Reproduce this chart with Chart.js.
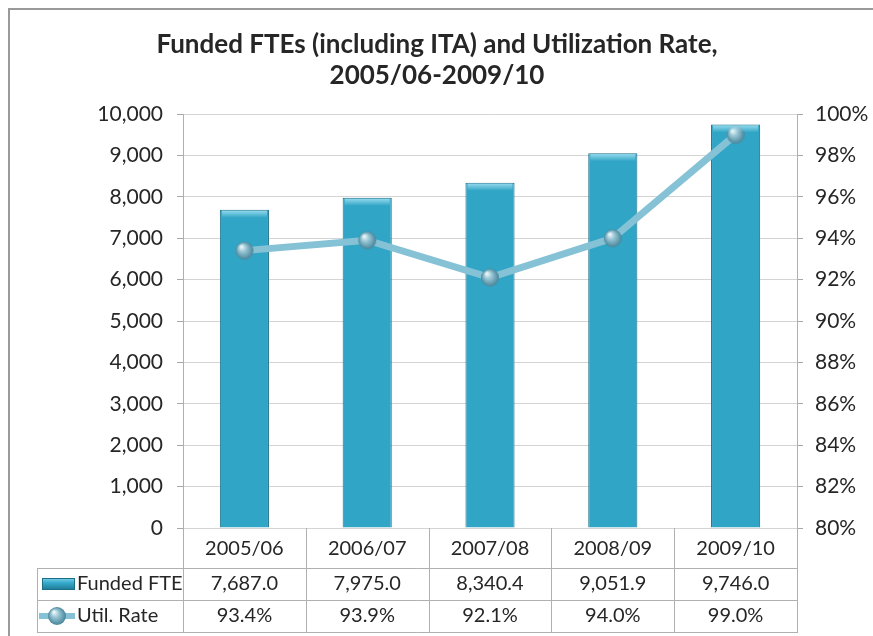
<!DOCTYPE html>
<html>
<head>
<meta charset="utf-8">
<title>Funded FTEs and Utilization Rate</title>
<script src="https://cdn.jsdelivr.net/npm/chart.js@4.4.0/dist/chart.umd.min.js"></script>
<style>
  html, body { margin: 0; padding: 0; background: #ffffff; }
  #wrap { position: relative; width: 873px; height: 636px; }
</style>
</head>
<body>
<div id="wrap"><canvas id="fteChart" width="873" height="636"></canvas></div>
<script>
  'use strict';

  // Chart data
  var categories = ['2005/06', '2006/07', '2007/08', '2008/09', '2009/10'];
  var fundedFte = [7687.0, 7975.0, 8340.4, 9051.9, 9746.0];
  var utilRate = [93.4, 93.9, 92.1, 94.0, 99.0];
  var titleLines = ['Funded FTEs (including ITA) and Utilization Rate,', '2005/06-2009/10'];
  var seriesNames = ['Funded FTE', 'Util. Rate'];

  var FONT = "'Lato', 'Open Sans', sans-serif";
  var TEXT = '#262626';
  var GRID = '#d4d4d4';
  var TABLE_LINE = '#b0b0b0';

  // Layout of the plot area (px)
  var PLOT_LEFT = 183, PLOT_RIGHT = 797, PLOT_TOP = 114, PLOT_BOTTOM = 528;
  var TABLE_LEFT = 37, ROW_H = 32;

  function fmtNum(v, digits) {
    return v.toLocaleString('en-US', { minimumFractionDigits: digits, maximumFractionDigits: digits });
  }

  // Glossy sphere used as the line marker
  function makeSphere(r) {
    var c = document.createElement('canvas');
    c.width = c.height = r * 2 + 2;
    var g = c.getContext('2d');
    var cx = r + 1, cy = r + 1;
    var grad = g.createRadialGradient(cx - r * 0.35, cy - r * 0.45, r * 0.1, cx, cy, r);
    grad.addColorStop(0, '#e8f4f8');
    grad.addColorStop(0.35, '#9cc8d6');
    grad.addColorStop(0.8, '#5f99ad');
    grad.addColorStop(1, '#4b8498');
    g.fillStyle = grad;
    g.beginPath();
    g.arc(cx, cy, r, 0, Math.PI * 2);
    g.fill();
    return c;
  }
  var sphere = makeSphere(9);

  // Bar fill with a slight horizontal bevel
  function barFill(context) {
    var chart = context.chart;
    var el = context.element;
    if (!chart.chartArea || !el || el.x === undefined) return '#31a5c6';
    var w = el.width || 50;
    var g = chart.ctx.createLinearGradient(el.x - w / 2, 0, el.x + w / 2, 0);
    g.addColorStop(0, '#1f7e9b');
    g.addColorStop(0.08, '#2c9cbc');
    g.addColorStop(0.5, '#35aacb');
    g.addColorStop(0.92, '#2c9cbc');
    g.addColorStop(1, '#1f7e9b');
    return g;
  }

  var framePlugin = {
    id: 'frameAndTable',
    beforeDraw: function(chart) {
      var ctx = chart.ctx;
      ctx.save();
      ctx.fillStyle = '#ffffff';
      ctx.fillRect(0, 0, chart.width, chart.height);
      // outer chart border
      ctx.strokeStyle = '#9a9a9a';
      ctx.lineWidth = 2;
      ctx.strokeRect(9, 9, chart.width + 20, chart.height + 20);
      ctx.restore();
    },
    afterDatasetsDraw: function(chart) {
      // light bevel on top of each bar
      var ctx = chart.ctx;
      var meta = chart.getDatasetMeta(1);
      ctx.save();
      meta.data.forEach(function(bar) {
        var l = bar.x - bar.width / 2, t = bar.y;
        var g = ctx.createLinearGradient(0, t, 0, t + 8);
        g.addColorStop(0, 'rgba(170,230,245,0.9)');
        g.addColorStop(1, 'rgba(170,230,245,0)');
        ctx.fillStyle = g;
        ctx.fillRect(l + 2, t + 1, bar.width - 4, 8);
      });
      ctx.restore();
    },
    afterDraw: function(chart) {
      var ctx = chart.ctx;
      var x = chart.scales.x;
      var area = chart.chartArea;
      var n = categories.length;
      var step = (area.right - area.left) / n;
      var top = area.bottom;
      var r1 = top + 40, r2 = r1 + ROW_H, r3 = r2 + ROW_H;

      ctx.save();

      // title
      ctx.fillStyle = TEXT;
      ctx.font = 'bold 26px ' + FONT;
      ctx.textAlign = 'center';
      ctx.textBaseline = 'middle';
      ctx.fillText(titleLines[0], 437, 45);
      ctx.fillText(titleLines[1], 437, 76);

      // table grid
      ctx.strokeStyle = TABLE_LINE;
      ctx.lineWidth = 1;
      ctx.beginPath();
      for (var i = 0; i <= n; i++) {
        var bx = Math.round(area.left + step * i) + 0.5;
        ctx.moveTo(bx, top);
        ctx.lineTo(bx, r3);
      }
      ctx.moveTo(TABLE_LEFT + 0.5, r1);
      ctx.lineTo(TABLE_LEFT + 0.5, r3);
      [r1, r2, r3].forEach(function(yy) {
        ctx.moveTo(TABLE_LEFT, yy + 0.5);
        ctx.lineTo(area.right + 1, yy + 0.5);
      });
      ctx.stroke();

      // table text
      ctx.font = '20px ' + FONT;
      ctx.fillStyle = TEXT;
      ctx.textAlign = 'center';
      ctx.textBaseline = 'middle';
      for (var j = 0; j < n; j++) {
        var cx = x.getPixelForValue(j);
        ctx.fillText(categories[j], cx, top + 21);
        ctx.fillText(fmtNum(fundedFte[j], 1), cx, r1 + 16);
        ctx.fillText(fmtNum(utilRate[j], 1) + '%', cx, r2 + 16);
      }

      // legend keys in the table
      var kg = ctx.createLinearGradient(0, r1 + 10, 0, r1 + 22);
      kg.addColorStop(0, '#7fd3ea');
      kg.addColorStop(0.4, '#36aacb');
      kg.addColorStop(1, '#1d7893');
      ctx.fillStyle = kg;
      ctx.fillRect(42, r1 + 10, 33, 12);
      ctx.strokeStyle = '#1b6f88';
      ctx.strokeRect(42.5, r1 + 10.5, 32, 11);

      ctx.strokeStyle = '#86c2d5';
      ctx.lineWidth = 6;
      ctx.beginPath();
      ctx.moveTo(TABLE_LEFT + 2, r2 + 16);
      ctx.lineTo(75, r2 + 16);
      ctx.stroke();
      ctx.drawImage(sphere, 57 - 10, r2 + 16 - 10);

      ctx.fillStyle = TEXT;
      ctx.textAlign = 'left';
      ctx.fillText(seriesNames[0], 77, r1 + 16);
      ctx.fillText(seriesNames[1], 77, r2 + 16);

      ctx.restore();
    }
  };

  Chart.defaults.font.family = FONT;
  Chart.defaults.color = TEXT;

  var ctx = document.getElementById('fteChart');
  new Chart(ctx, {
    type: 'bar',
    data: {
      labels: categories,
      datasets: [
        {
          type: 'line',
          label: seriesNames[1],
          data: utilRate,
          yAxisID: 'y1',
          borderColor: '#86c2d5',
          borderWidth: 7,
          pointStyle: sphere,
          pointRadius: 9,
          pointHoverRadius: 9,
          tension: 0,
          order: 0
        },
        {
          type: 'bar',
          label: seriesNames[0],
          data: fundedFte,
          yAxisID: 'y',
          backgroundColor: barFill,
          borderColor: '#1b6f88',
          borderWidth: 1,
          barPercentage: 0.8,
          categoryPercentage: 0.5,
          order: 1
        }
      ]
    },
    options: {
      responsive: false,
      animation: false,
      layout: { padding: { left: 0, right: 0, top: PLOT_TOP, bottom: 0 } },
      plugins: {
        legend: { display: false },
        title: { display: false },
        tooltip: { enabled: false }
      },
      scales: {
        x: {
          offset: true,
          grid: { display: false },
          border: { display: false },
          ticks: { display: false },
          afterFit: function(scale) { scale.height = 636 - PLOT_BOTTOM; }
        },
        y: {
          position: 'left',
          min: 0,
          max: 10000,
          ticks: {
            stepSize: 1000,
            padding: 14,
            font: { size: 21 },
            color: TEXT,
            callback: function(v) { return fmtNum(v, 0); }
          },
          grid: { color: GRID, tickLength: 6, tickColor: '#a8a8a8' },
          border: { color: '#b0b0b0' },
          afterFit: function(scale) { scale.width = PLOT_LEFT; }
        },
        y1: {
          position: 'right',
          min: 80,
          max: 100,
          ticks: {
            stepSize: 2,
            padding: 12,
            font: { size: 21 },
            color: TEXT,
            callback: function(v) { return v + '%'; }
          },
          grid: { drawOnChartArea: false, tickLength: 6, tickColor: '#a8a8a8' },
          border: { color: '#b0b0b0' },
          afterFit: function(scale) { scale.width = 873 - PLOT_RIGHT; }
        }
      }
    },
    plugins: [framePlugin]
  });
</script>
</body>
</html>
